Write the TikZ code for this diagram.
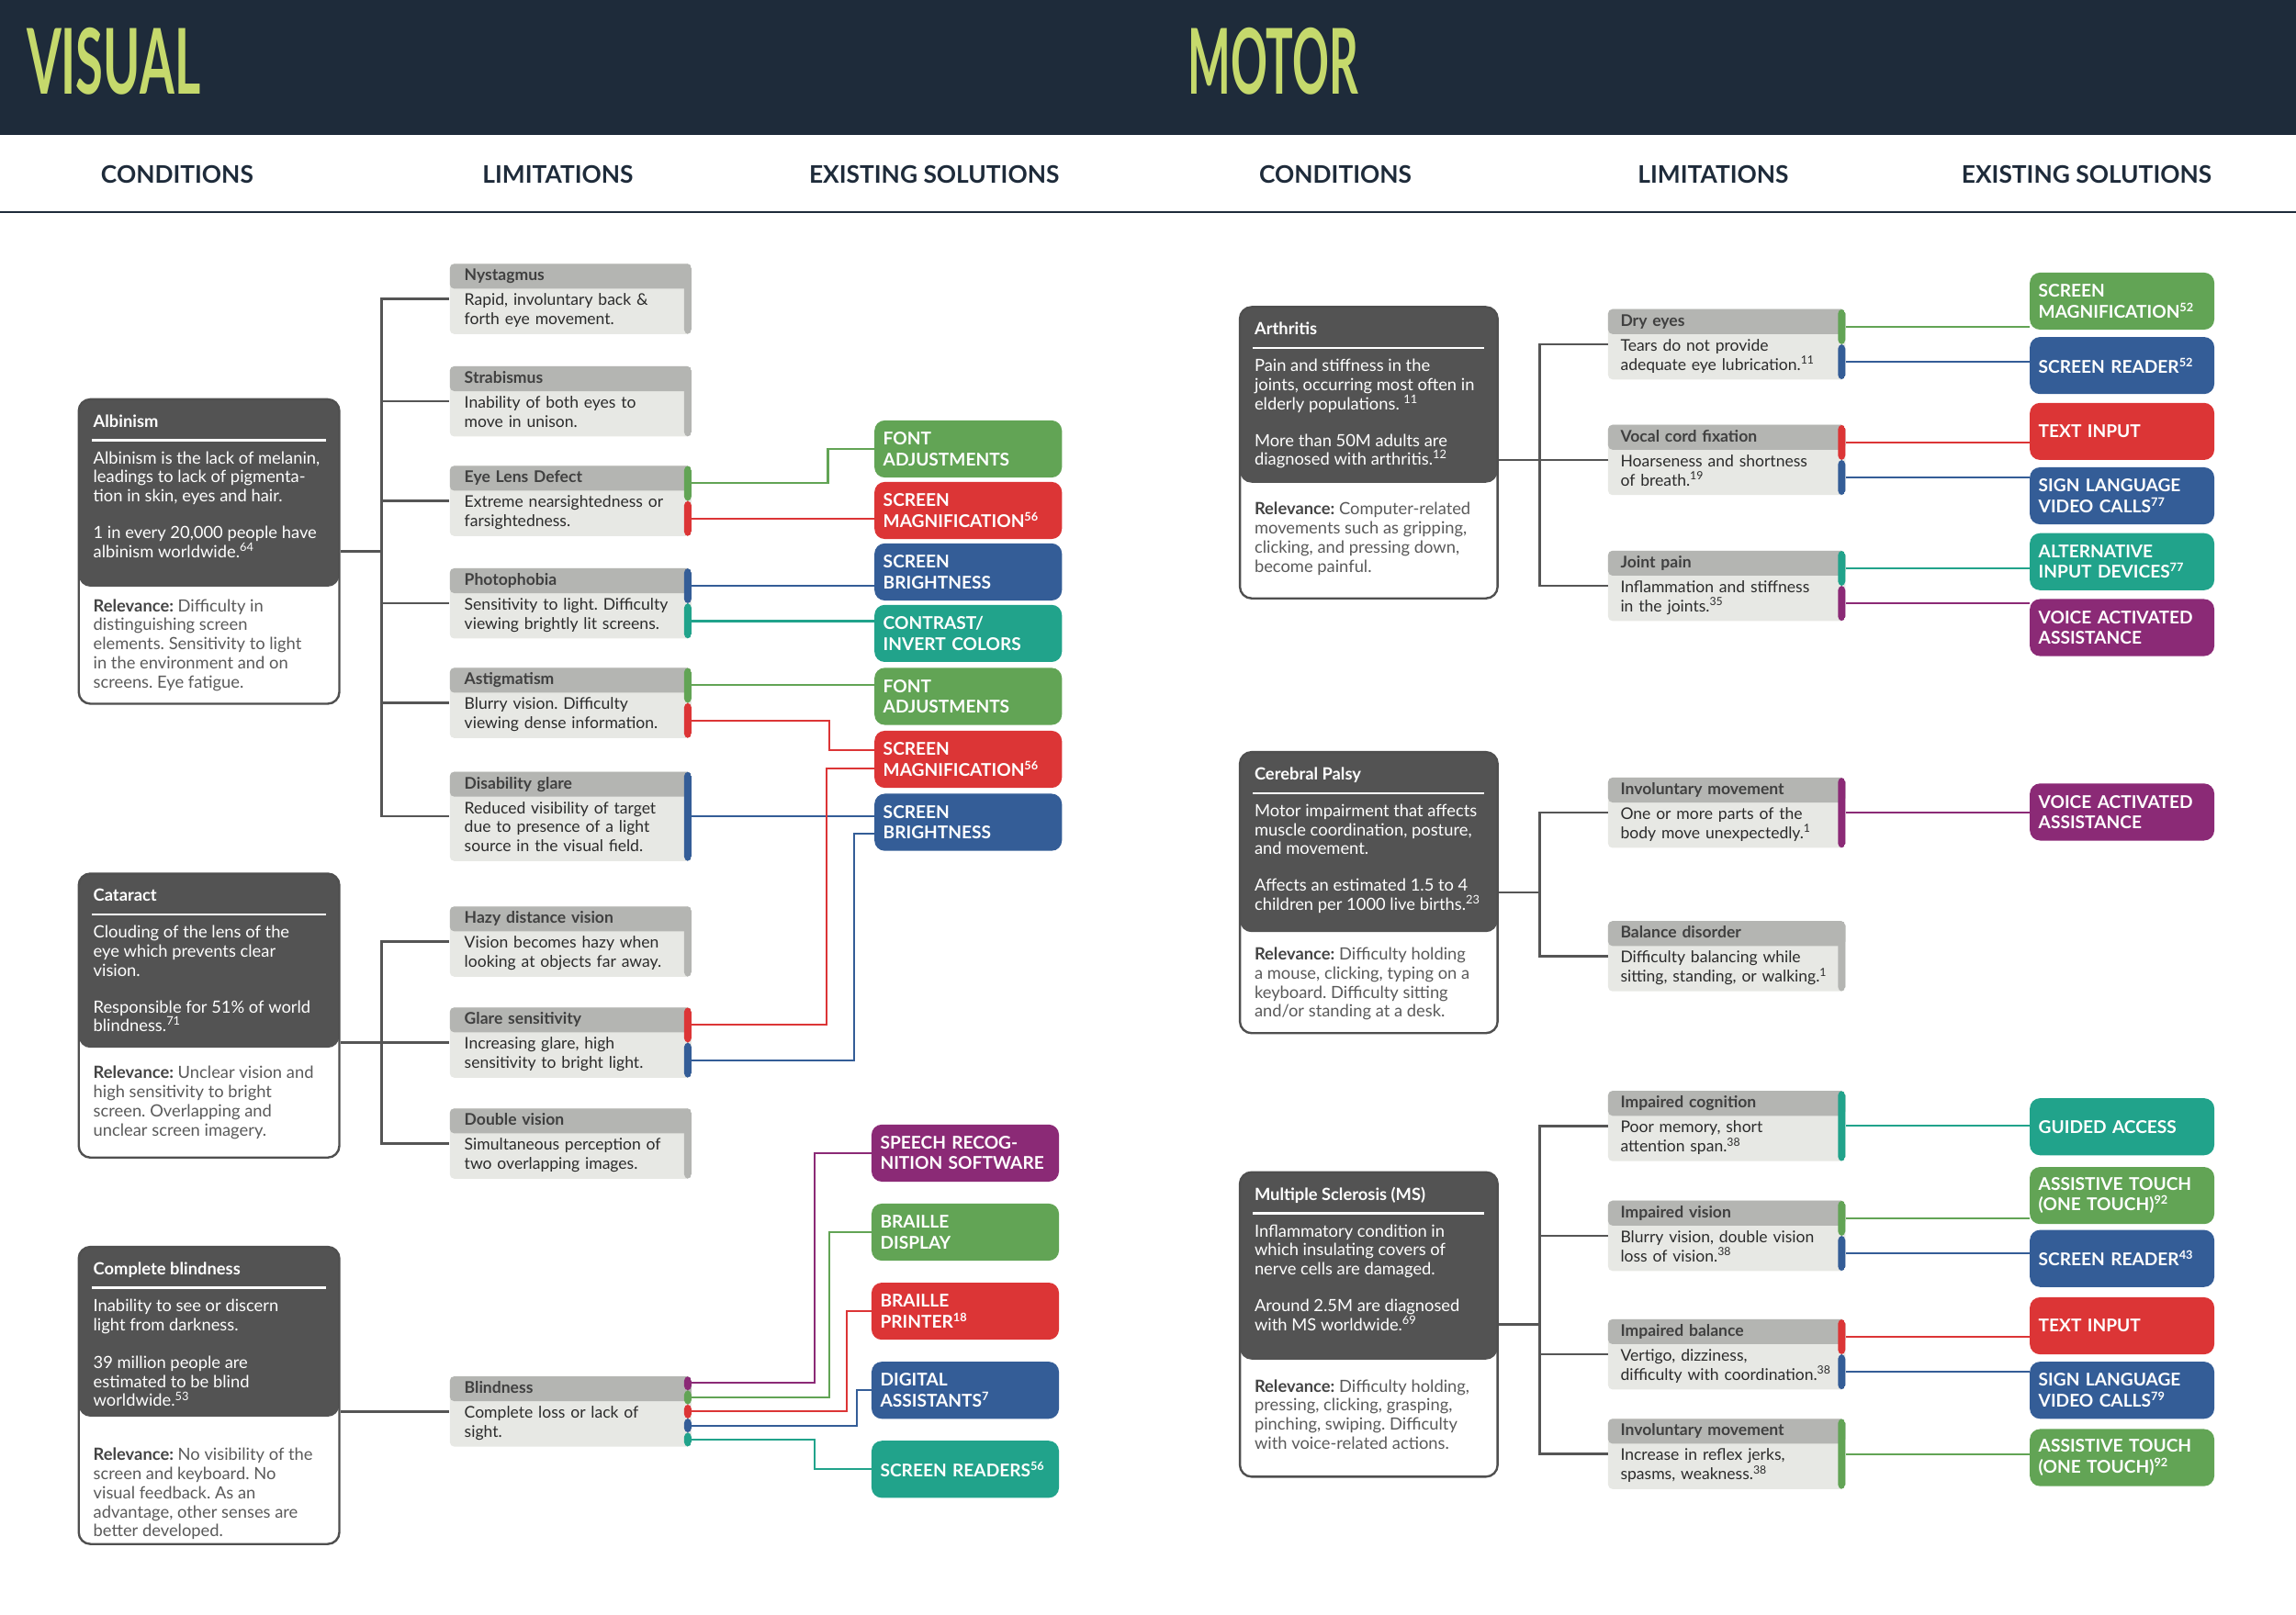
\documentclass[tikz,border=0pt]{standalone}
\usepackage{fontspec}
\setmainfont{Lato}
\usetikzlibrary{calc}
\frenchspacing

\definecolor{navy}{HTML}{1E2B3A}
\definecolor{lime}{HTML}{C5D96C}
\definecolor{darkbox}{HTML}{535353}
\definecolor{frame}{HTML}{4F4F4F}
\definecolor{titlegray}{HTML}{B4B5B2}
\definecolor{bodygray}{HTML}{E7E8E4}
\definecolor{tdark}{HTML}{2B2B2B}
\definecolor{ttitle}{HTML}{404040}
\definecolor{relgray}{HTML}{5A5A5A}
\definecolor{reldark}{HTML}{444444}
\definecolor{trunkgray}{HTML}{555555}
\definecolor{cgreen}{HTML}{62A455}
\definecolor{cred}{HTML}{DC3536}
\definecolor{cblue}{HTML}{345D97}
\definecolor{cteal}{HTML}{21A38B}
\definecolor{cpurple}{HTML}{8B2A76}

\newcommand\limfont{\fontsize{11}{13}\selectfont\frenchspacing}
\newcommand\condfont{\fontsize{11.5}{13}\selectfont\frenchspacing}
\newcommand\solfont{\fontsize{12}{14}\selectfont\bfseries}
\newcommand\headfont{\fontsize{16.5}{18}\selectfont\bfseries}
\newcommand\bigfont{\fontsize{62}{62}\selectfont\bfseries}
\newcommand\limtext[2]{\strut{\color{ttitle}\bfseries #1}\\[4pt]#2\strut}
\newcommand\mkports[2]{\foreach \i in {1,...,#2}{\pgfmathsetmacro\pf{(\i-0.5)/#2}\coordinate (#1-\i) at ($(#1.north east)!\pf!(#1.south east)$);}}

\begin{document}
\begin{tikzpicture}[x=1pt, y=-1pt,
  darkh/.store in=\darkh, darkh=120pt,
  stripes/.store in=\stripelist, stripes=titlegray,
  trunk/.style={draw=trunkgray, line width=1.6pt},
  link/.style={line width=1.3pt},
  bigtitle/.style={anchor=west, inner sep=0pt, text=lime, font=\bigfont},
  colhead/.style={text=navy, font=\headfont},
  condbox/.style={anchor=north west, fill=white, draw=frame, line width=1.5pt, rounded corners=8pt,
    inner xsep=10pt, inner ysep=10pt, text=white, font=\condfont,
    path picture={
      \fill[darkbox] (path picture bounding box.north west) rectangle ([yshift=-\darkh]path picture bounding box.north east);
      \draw[white, line width=1.5pt] ([xshift=9pt,yshift=-28pt]path picture bounding box.north west) -- ([xshift=-9pt,yshift=-28pt]path picture bounding box.north east);
    }},
  limbox/.style={anchor=north west, fill=bodygray, rounded corners=3pt, text width=145pt,
    inner xsep=10pt, inner ysep=2.5pt, align=left, text=tdark, font=\limfont, stripes=titlegray,
    path picture={
      \fill[titlegray] (path picture bounding box.north west) rectangle ([yshift=-17pt]path picture bounding box.north east);
      \foreach \c [count=\i] in \stripelist {\xdef\nseg{\i}}
      \foreach \c [count=\i] in \stripelist {
        \pgfmathsetmacro\fa{(\i-1)/\nseg}
        \pgfmathsetmacro\fb{\i/\nseg}
        \fill[\c] ($(path picture bounding box.north east)!\fa!(path picture bounding box.south east)+(-5,0)$) rectangle ($(path picture bounding box.north east)!\fb!(path picture bounding box.south east)$);
      }
    }},
  mlim/.style={limbox, text width=145pt, inner xsep=8.5pt},
  solbox/.style={anchor=north west, rounded corners=7pt, minimum height=39pt, text width=116pt,
    inner xsep=6pt, inner ysep=2pt, align=left, text=white, font=\solfont},
  msol/.style={solbox, text width=114pt}
]
\useasboundingbox (0,0) rectangle (1568,1103);
\fill[navy] (0,0) rectangle (1568,92);
\node[bigtitle] (vis) at (18,42) {\scalebox{0.55}[1]{VISUAL}};
\node[bigtitle] (mot) at (811,42) {\scalebox{0.5}[1]{MOTOR}};
\foreach \x/\t [count=\k] in {121/CONDITIONS, 381/LIMITATIONS, 638/EXISTING SOLUTIONS, 912/CONDITIONS, 1170/LIMITATIONS, 1425/EXISTING SOLUTIONS}
  \node[colhead] (h\k) at (\x,119) {\t};
\draw[navy, line width=1.5pt] (0,145) -- (1568,145);

% visual conditions
\node[condbox, darkh=128pt] (alb) at (53,272) {\parbox[t][188pt][t]{158pt}{\raggedright\strut\textbf{Albinism}\\[12pt]Albinism is the lack of melanin,\\leadings to lack of pigmenta-\\tion in skin, eyes and hair.\\[12pt]1 in every 20,000 people have\\albinism worldwide.\textsuperscript{64}\\[24pt]{\color{relgray}\textbf{\color{reldark}Relevance:} Difficulty in\\distinguishing screen\\elements. Sensitivity to light\\in the environment and on\\screens. Eye fatigue.}}};
\node[condbox, darkh=119pt] (cat) at (53,596) {\parbox[t][174pt][t]{158pt}{\raggedright\strut\textbf{Cataract}\\[12pt]Clouding of the lens of the\\eye which prevents clear\\vision.\\[12pt]Responsible for 51\% of world\\blindness.\textsuperscript{71}\\[19pt]{\color{relgray}\textbf{\color{reldark}Relevance:} Unclear vision and\\high sensitivity to bright\\screen. Overlapping and\\unclear screen imagery.}}};
\node[condbox, darkh=116pt] (cblind) at (53,851) {\parbox[t][183pt][t]{158pt}{\raggedright\strut\textbf{Complete blindness}\\[12pt]Inability to see or discern\\light from darkness.\\[13pt]39 million people are\\estimated to be blind\\worldwide.\textsuperscript{53}\\[24pt]{\color{relgray}\textbf{\color{reldark}Relevance:} No visibility of the\\screen and keyboard. No\\visual feedback. As an\\advantage, other senses are\\better developed.}}};

% visual limitations
\node[limbox] (nys) at (307,180) {\limtext{Nystagmus}{Rapid, involuntary back \&\\forth eye movement.}};
\node[limbox] (strab) at (307,250) {\limtext{Strabismus}{Inability of both eyes to\\move in unison.}};
\node[limbox, stripes={cgreen,cred}] (lens) at (307,318) {\limtext{Eye Lens Defect}{Extreme nearsightedness or\\farsightedness.}};
\node[limbox, stripes={cblue,cteal}] (photo) at (307,388) {\limtext{Photophobia}{Sensitivity to light. Difficulty\\viewing brightly lit screens.}};
\node[limbox, stripes={cgreen,cred}] (astig) at (307,456) {\limtext{Astigmatism}{Blurry vision. Difficulty\\viewing dense information.}};
\node[limbox, stripes=cblue] (dglare) at (307,527) {\limtext{Disability glare}{Reduced visibility of target\\due to presence of a light\\source in the visual field.}};
\node[limbox] (hazy) at (307,619) {\limtext{Hazy distance vision}{Vision becomes hazy when\\looking at objects far away.}};
\node[limbox, stripes={cred,cblue}] (glare) at (307,688) {\limtext{Glare sensitivity}{Increasing glare, high\\sensitivity to bright light.}};
\node[limbox] (dbl) at (307,757) {\limtext{Double vision}{Simultaneous perception of\\two overlapping images.}};
\node[limbox, stripes={cpurple,cgreen,cred,cblue,cteal}] (blind) at (307,940) {\limtext{Blindness}{Complete loss or lack of\\sight.}};

% visual solutions
\node[solbox, fill=cgreen] (fontA) at (597,287) {FONT\\ADJUSTMENTS};
\node[solbox, fill=cred] (magA) at (597,329) {SCREEN\\MAGNIFICATION\textsuperscript{56}};
\node[solbox, fill=cblue] (brightA) at (597,371) {SCREEN\\BRIGHTNESS};
\node[solbox, fill=cteal] (contr) at (597,413) {CONTRAST/\\INVERT COLORS};
\node[solbox, fill=cgreen] (fontB) at (597,456) {FONT\\ADJUSTMENTS};
\node[solbox, fill=cred] (magB) at (597,499) {SCREEN\\MAGNIFICATION\textsuperscript{56}};
\node[solbox, fill=cblue] (brightB) at (597,542) {SCREEN\\BRIGHTNESS};
\node[solbox, fill=cpurple] (speech) at (595,768) {SPEECH RECOG-\\NITION SOFTWARE};
\node[solbox, fill=cgreen] (bdisp) at (595,822) {BRAILLE\\DISPLAY};
\node[solbox, fill=cred] (bprint) at (595,876) {BRAILLE\\PRINTER\textsuperscript{18}};
\node[solbox, fill=cblue] (digi) at (595,930) {DIGITAL\\ASSISTANTS\textsuperscript{7}};
\node[solbox, fill=cteal] (sread) at (595,984) {SCREEN READERS\textsuperscript{56}};

% motor conditions
\node[condbox, darkh=120pt] (arth) at (846,209) {\parbox[t][179pt][t]{156pt}{\raggedright\strut\textbf{Arthritis}\\[12pt]Pain and stiffness in the\\joints, occurring most often in\\elderly populations. \textsuperscript{11}\\[12pt]More than 50M adults are\\diagnosed with arthritis.\textsuperscript{12}\\[21pt]{\color{relgray}\textbf{\color{reldark}Relevance:} Computer-related\\movements such as gripping,\\clicking, and pressing down,\\become painful.}}};
\node[condbox, darkh=123pt] (cp) at (846,513) {\parbox[t][172pt][t]{156pt}{\raggedright\strut\textbf{Cerebral Palsy}\\[12pt]Motor impairment that affects\\muscle coordination, posture,\\and movement.\\[12pt]Affects an estimated 1.5 to 4\\children per 1000 live births.\textsuperscript{23}\\[21pt]{\color{relgray}\textbf{\color{reldark}Relevance:} Difficulty holding\\a mouse, clicking, typing on a\\keyboard. Difficulty sitting\\and/or standing at a desk.}}};
\node[condbox, darkh=128pt] (ms) at (846,800) {\parbox[t][188pt][t]{156pt}{\raggedright\strut\textbf{Multiple Sclerosis (MS)}\\[12pt]Inflammatory condition in\\which insulating covers of\\nerve cells are damaged.\\[12pt]Around 2.5M are diagnosed\\with MS worldwide.\textsuperscript{69}\\[29pt]{\color{relgray}\textbf{\color{reldark}Relevance:} Difficulty holding,\\pressing, clicking, grasping,\\pinching, swiping. Difficulty\\with voice-related actions.}}};

% motor limitations
\node[mlim, stripes={cgreen,cblue}] (dry) at (1098,211) {\limtext{Dry eyes}{Tears do not provide\\adequate eye lubrication.\textsuperscript{11}}};
\node[mlim, stripes={cred,cblue}] (vocal) at (1098,290) {\limtext{Vocal cord fixation}{Hoarseness and shortness\\of breath.\textsuperscript{19}}};
\node[mlim, stripes={cteal,cpurple}] (joint) at (1098,376) {\limtext{Joint pain}{Inflammation and stiffness\\in the joints.\textsuperscript{35}}};
\node[mlim, stripes=cpurple] (invA) at (1098,531) {\limtext{Involuntary movement}{One or more parts of the\\body move unexpectedly.\textsuperscript{1}}};
\node[mlim] (bal) at (1098,629) {\limtext{Balance disorder}{Difficulty balancing while\\sitting, standing, or walking.\textsuperscript{1}}};
\node[mlim, stripes=cteal] (cog) at (1098,745) {\limtext{Impaired cognition}{Poor memory, short\\attention span.\textsuperscript{38}}};
\node[mlim, stripes={cgreen,cblue}] (vis) at (1098,820) {\limtext{Impaired vision}{Blurry vision, double vision\\loss of vision.\textsuperscript{38}}};
\node[mlim, stripes={cred,cblue}] (ibal) at (1098,901) {\limtext{Impaired balance}{Vertigo, dizziness,\\difficulty with coordination.\textsuperscript{38}}};
\node[mlim, stripes=cgreen] (invB) at (1098,969) {\limtext{Involuntary movement}{Increase in reflex jerks,\\spasms, weakness.\textsuperscript{38}}};

% motor solutions
\node[msol, fill=cgreen] (smag) at (1386,186) {SCREEN\\MAGNIFICATION\textsuperscript{52}};
\node[msol, fill=cblue] (sreadA) at (1386,230) {SCREEN READER\textsuperscript{52}};
\node[msol, fill=cred] (textA) at (1386,275) {TEXT INPUT};
\node[msol, fill=cblue] (signA) at (1386,319) {SIGN LANGUAGE\\VIDEO CALLS\textsuperscript{77}};
\node[msol, fill=cteal] (altin) at (1386,364) {ALTERNATIVE\\INPUT DEVICES\textsuperscript{77}};
\node[msol, fill=cpurple] (voiceA) at (1386,409) {VOICE ACTIVATED\\ASSISTANCE};
\node[msol, fill=cpurple] (voiceB) at (1386,535) {VOICE ACTIVATED\\ASSISTANCE};
\node[msol, fill=cteal] (guided) at (1386,750) {GUIDED ACCESS};
\node[msol, fill=cgreen] (atouchA) at (1386,797) {ASSISTIVE TOUCH\\(ONE TOUCH)\textsuperscript{92}};
\node[msol, fill=cblue] (sreadB) at (1386,840) {SCREEN READER\textsuperscript{43}};
\node[msol, fill=cred] (textB) at (1386,886) {TEXT INPUT};
\node[msol, fill=cblue] (signB) at (1386,930) {SIGN LANGUAGE\\VIDEO CALLS\textsuperscript{79}};
\node[msol, fill=cgreen] (atouchB) at (1386,976) {ASSISTIVE TOUCH\\(ONE TOUCH)\textsuperscript{92}};

% trunks
\draw[trunk] (alb.east) -- ++(28,0) coordinate (albJ);
\foreach \n in {nys,strab,lens,photo,astig,dglare} \draw[trunk] (albJ) |- (\n.west);
\draw[trunk] (cat.east |- glare.west) -- (glare.west);
\coordinate (catJ) at ($(cat.east |- glare.west)+(28,0)$);
\foreach \n in {hazy,dbl} \draw[trunk] (catJ) |- (\n.west);
\draw[trunk] (cblind.east |- blind.west) -- (blind.west);
\draw[trunk] (arth.east |- vocal.west) -- (vocal.west);
\coordinate (arthJ) at ($(arth.east |- vocal.west)+(28,0)$);
\foreach \n in {dry,joint} \draw[trunk] (arthJ) |- (\n.west);
\draw[trunk] (cp.east) -- ++(28,0) coordinate (cpJ);
\foreach \n in {invA,bal} \draw[trunk] (cpJ) |- (\n.west);
\draw[trunk] (ms.east) -- ++(28,0) coordinate (msJ);
\foreach \n in {cog,vis,ibal,invB} \draw[trunk] (msJ) |- (\n.west);

% ports and links
\mkports{lens}{2} \mkports{photo}{2} \mkports{astig}{2} \mkports{dglare}{1}
\mkports{glare}{2} \mkports{blind}{5}
\mkports{dry}{2} \mkports{vocal}{2} \mkports{joint}{2} \mkports{invA}{1}
\mkports{cog}{1} \mkports{vis}{2} \mkports{ibal}{2} \mkports{invB}{1}

\draw[link, cgreen] (lens-1) -- ++(93,0) |- (fontA.west);
\draw[link, cred] (lens-2) -- (lens-2 -| magA.west);
\draw[link, cblue] (photo-1) -- (photo-1 -| brightA.west);
\draw[link, cteal] (photo-2) -- (photo-2 -| contr.west);
\draw[link, cgreen] (astig-1) -- (astig-1 -| fontB.west);
\draw[link, cred] (astig-2) -- ++(94,0) |- ([yshift=6pt]magB.west);
\draw[link, cblue] (dglare-1) -- (dglare-1 -| brightB.west);
\draw[link, cred] (glare-1) -- ++(92,0) |- ([yshift=-6pt]magB.west);
\draw[link, cblue] (glare-2) -- ++(111,0) |- ([yshift=-8pt]brightB.west);
\draw[link, cpurple] (blind-1) -- ++(84,0) |- (speech.west);
\draw[link, cgreen] (blind-2) -- ++(94,0) |- (bdisp.west);
\draw[link, cred] (blind-3) -- ++(106,0) |- (bprint.west);
\draw[link, cblue] (blind-4) -- ++(113,0) |- (digi.west);
\draw[link, cteal] (blind-5) -- ++(84,0) |- (sread.west);

\draw[link, cgreen] (dry-1) -- (dry-1 -| smag.west);
\draw[link, cblue] (dry-2) -- (dry-2 -| sreadA.west);
\draw[link, cred] (vocal-1) -- (vocal-1 -| textA.west);
\draw[link, cblue] (vocal-2) -- (vocal-2 -| signA.west);
\draw[link, cteal] (joint-1) -- (joint-1 -| altin.west);
\draw[link, cpurple] (joint-2) -- (joint-2 -| voiceA.west);
\draw[link, cpurple] (invA-1) -- (invA-1 -| voiceB.west);
\draw[link, cteal] (cog-1) -- (cog-1 -| guided.west);
\draw[link, cgreen] (vis-1) -- (vis-1 -| atouchA.west);
\draw[link, cblue] (vis-2) -- (vis-2 -| sreadB.west);
\draw[link, cred] (ibal-1) -- (ibal-1 -| textB.west);
\draw[link, cblue] (ibal-2) -- (ibal-2 -| signB.west);
\draw[link, cgreen] (invB-1) -- (invB-1 -| atouchB.west);
\end{tikzpicture}
\end{document}
